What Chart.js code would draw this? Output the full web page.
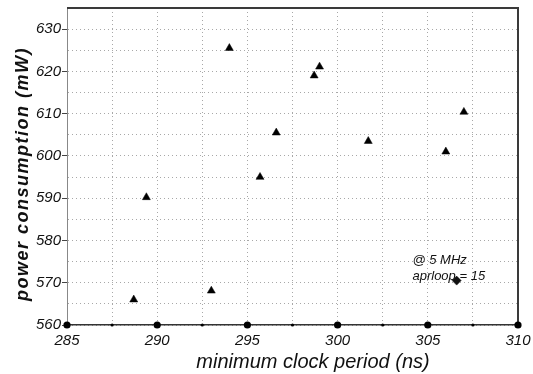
<!DOCTYPE html>
<html>
<head>
<meta charset="utf-8">
<script src="https://cdn.jsdelivr.net/npm/chart.js@4.4.1/dist/chart.umd.min.js"></script>
<style>
  html, body { margin: 0; padding: 0; background: #fff; }
  #wrap { width: 533px; height: 374px; }
</style>
</head>
<body>
<div id="wrap"><canvas id="chart" width="533" height="374"></canvas></div>
<script>
// Power vs. minimum clock period, one triangle per run.
const periodNs = [288.7, 289.4, 293.0, 294.0, 295.7, 296.6, 298.7, 299.0, 301.7, 306.0, 307.0];
const powerMw  = [566.0, 590.2, 568.1, 625.5, 595.0, 605.5, 619.0, 621.1, 603.5, 601.0, 610.4];

// The single diamond next to the "aprloop = 15" note.
const markPeriod = [306.6];
const markPower  = [570.5];

const xRange = [285, 310];
const yRange = [560, 635];

const noteLines = ["@ 5 MHz", "aprloop = 15"];
const noteAt = { x: 304.15, y: [575.2, 571.4] };

const FONT = "'Liberation Sans', Arial, sans-serif";

// --------------- Helpers ---------------

function toPoints(xs, ys) {
  return xs.map((x, i) => ({ x, y: ys[i] }));
}

// Frame, axis dots, axis titles and the note.
const decor = {
  id: "decor",
  afterDraw(chart) {
    const { ctx, chartArea: a, scales: { x, y } } = chart;
    ctx.save();

    // top + right frame
    ctx.strokeStyle = "#3a3a3a";
    ctx.lineWidth = 2;
    ctx.beginPath();
    ctx.moveTo(a.left, a.top);
    ctx.lineTo(a.right, a.top);
    ctx.lineTo(a.right, a.bottom);
    ctx.stroke();

    // round tick dots along the bottom axis
    ctx.fillStyle = "#000";
    for (const t of x.ticks) {
      const big = t.value % 5 === 0;
      ctx.beginPath();
      ctx.arc(x.getPixelForValue(t.value), a.bottom, big ? 3.6 : 1.6, 0, Math.PI * 2);
      ctx.fill();
    }

    // axis titles
    ctx.fillStyle = "#111";
    ctx.textAlign = "center";
    ctx.textBaseline = "alphabetic";
    ctx.font = "italic 20px " + FONT;
    ctx.fillText("minimum clock period (ns)", 313, 368);

    ctx.save();
    ctx.translate(23, 174);
    ctx.rotate(-Math.PI / 2);
    ctx.font = "italic bold 18px " + FONT;
    ctx.letterSpacing = "1.5px";
    ctx.textBaseline = "middle";
    ctx.fillText("power consumption (mW)", 0, 0);
    ctx.restore();

    // note text
    ctx.font = "italic 13px " + FONT;
    ctx.textAlign = "left";
    ctx.textBaseline = "middle";
    const nx = x.getPixelForValue(noteAt.x);
    noteLines.forEach((s, i) => ctx.fillText(s, nx, y.getPixelForValue(noteAt.y[i])));

    ctx.restore();
  },
};

// --------------- Chart ---------------

new Chart(document.getElementById("chart"), {
  type: "scatter",
  data: {
    datasets: [
      {
        label: "runs",
        data: toPoints(periodNs, powerMw),
        pointStyle: "triangle",
        pointRadius: 4.6,
        backgroundColor: "#000",
        borderColor: "#000",
        borderWidth: 0.5,
      },
      {
        label: "aprloop = 15",
        data: toPoints(markPeriod, markPower),
        pointStyle: "rectRot",
        pointRadius: 4.5,
        backgroundColor: "#111",
        borderColor: "#000",
        borderWidth: 0.5,
      },
    ],
  },
  options: {
    responsive: false,
    animation: false,
    layout: { padding: { top: 8, right: 15, left: 0, bottom: 0 } },
    plugins: { legend: { display: false }, tooltip: { enabled: false } },
    scales: {
      x: {
        type: "linear",
        min: xRange[0], max: xRange[1],
        afterFit: s => { s.height = 49; s.paddingLeft = 0; s.paddingRight = 0; },
        ticks: {
          stepSize: 2.5,
          autoSkip: false,
          maxRotation: 0,
          padding: 7,
          color: "#111",
          font: { family: FONT, size: 15, style: "italic" },
          callback: v => (v % 5 === 0 ? String(v) : ""),
        },
        grid: { color: "#a8a8a8", lineWidth: 1, drawTicks: false },
        border: { display: true, color: "#333", width: 1.5, dash: [1, 3] },
      },
      y: {
        type: "linear",
        min: yRange[0], max: yRange[1],
        afterFit: s => { s.width = 67; s.paddingTop = 0; s.paddingBottom = 0; },
        ticks: {
          stepSize: 5,
          autoSkip: false,
          padding: 1,
          color: "#111",
          font: { family: FONT, size: 15, style: "italic" },
          callback: v => (v % 10 === 0 ? String(v) : ""),
        },
        grid: {
          color: "#a8a8a8",
          lineWidth: 1,
          tickLength: 5,
          tickColor: c => (c.tick && c.tick.value % 10 === 0 ? "#444" : "rgba(0,0,0,0)"),
          tickBorderDash: [],
        },
        border: { display: true, color: "#888", width: 1, dash: [1, 3] },
      },
    },
  },
  plugins: [decor],
});
</script>
</body>
</html>
